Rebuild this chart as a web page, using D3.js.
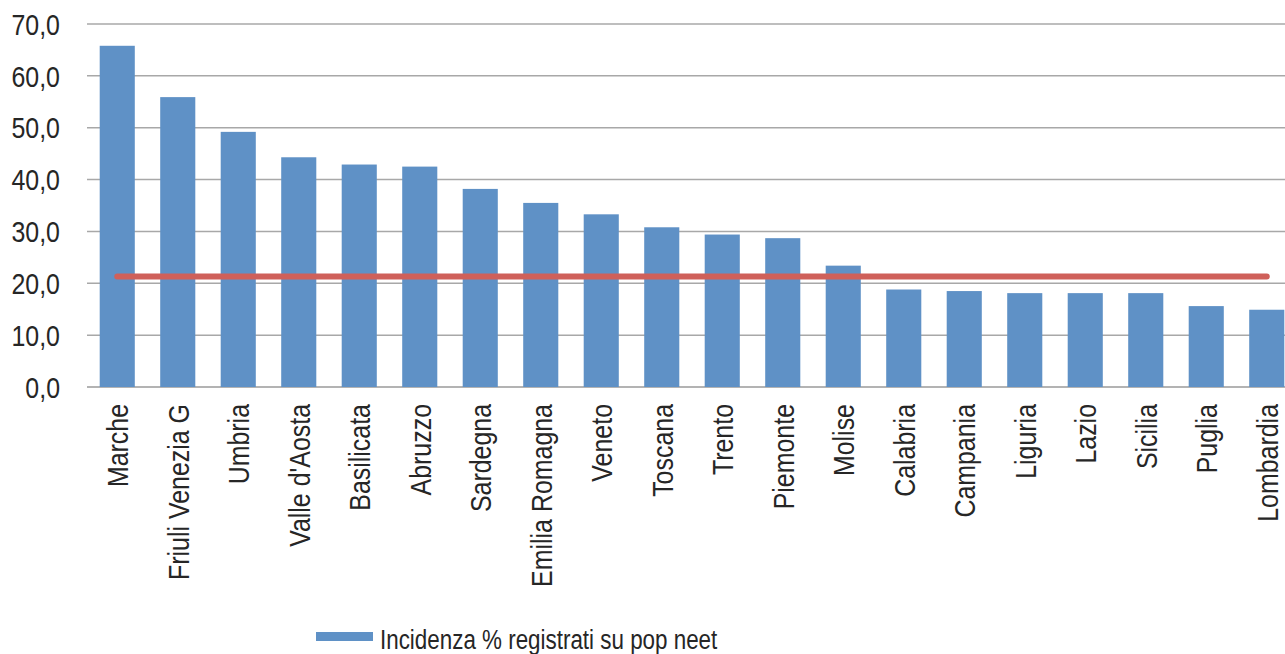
<!DOCTYPE html>
<html>
<head>
<meta charset="utf-8">
<script src="https://cdn.jsdelivr.net/npm/d3@7"></script>
<style>
  html, body { margin: 0; padding: 0; background: #fff; }
  svg { display: block; }
  text { font-family: "Liberation Sans", Arial, sans-serif; fill: #262626; }
</style>
</head>
<body>
<svg id="chart" width="1285" height="654"></svg>
<script>
const categories = ["Marche", "Friuli Venezia G", "Umbria", "Valle d'Aosta", "Basilicata", "Abruzzo", "Sardegna", "Emilia Romagna", "Veneto", "Toscana", "Trento", "Piemonte", "Molise", "Calabria", "Campania", "Liguria", "Lazio", "Sicilia", "Puglia", "Lombardia"];
const values = [65.8, 55.9, 49.2, 44.3, 42.9, 42.5, 38.2, 35.5, 33.3, 30.8, 29.4, 28.7, 23.4, 18.8, 18.5, 18.1, 18.1, 18.1, 15.6, 14.9];
const averageValue = 21.3;
const yTicks = [0, 10, 20, 30, 40, 50, 60, 70];
const seriesName = "Incidenza % registrati su pop neet";

const svg = d3.select("#chart");
const plotLeft = 87, plotRight = 1297, plotTop = 24, plotBottom = 387;
const narrow = 0.86;

const x = d3.scaleBand().domain(categories).range([plotLeft, plotRight]).paddingInner(0.42).paddingOuter(0.21);
const y = d3.scaleLinear().domain([0, 70]).range([plotBottom, plotTop]);
const fmt = v => v.toFixed(1).replace(".", ",");

// gridlines
svg.append("g").selectAll("line").data(yTicks).join("line")
  .attr("x1", plotLeft).attr("x2", plotRight)
  .attr("y1", d => y(d)).attr("y2", d => y(d))
  .attr("stroke", d => d === 0 ? "#9a9a9a" : "#a8a8a8")
  .attr("stroke-width", 1.5);

// y tick labels
svg.append("g").selectAll("text").data(yTicks).join("text")
  .attr("transform", d => `translate(60,${y(d) + 3}) scale(${narrow},1)`)
  .attr("text-anchor", "end").attr("dominant-baseline", "middle")
  .style("font-size", "29px")
  .text(fmt);

// bars
svg.append("g").selectAll("rect").data(values).join("rect")
  .attr("x", (d, i) => x(categories[i]))
  .attr("width", x.bandwidth())
  .attr("y", d => y(d))
  .attr("height", d => y(0) - y(d))
  .attr("fill", "#5f91c6");

// average line
svg.append("line")
  .attr("x1", x(categories[0]) + x.bandwidth() / 2)
  .attr("x2", x(categories[categories.length - 1]) + x.bandwidth() / 2)
  .attr("y1", y(averageValue)).attr("y2", y(averageValue))
  .attr("stroke", "#cf605a").attr("stroke-width", 6).attr("stroke-linecap", "round");

// x labels
svg.append("g").selectAll("text").data(categories).join("text")
  .attr("transform", d => `translate(${x(d) + x.bandwidth() / 2 + 1},404) rotate(-90) scale(${narrow},1)`)
  .attr("text-anchor", "end").attr("dy", "0.35em")
  .style("font-size", "29px")
  .text(d => d);

// legend
const lg = svg.append("g");
lg.append("rect").attr("x", 316).attr("y", 632).attr("width", 57).attr("height", 9).attr("fill", "#5f91c6");
lg.append("text").attr("transform", "translate(380,649) scale(0.8,1)")
  .style("font-size", "28px").text(seriesName);
</script>
</body>
</html>
